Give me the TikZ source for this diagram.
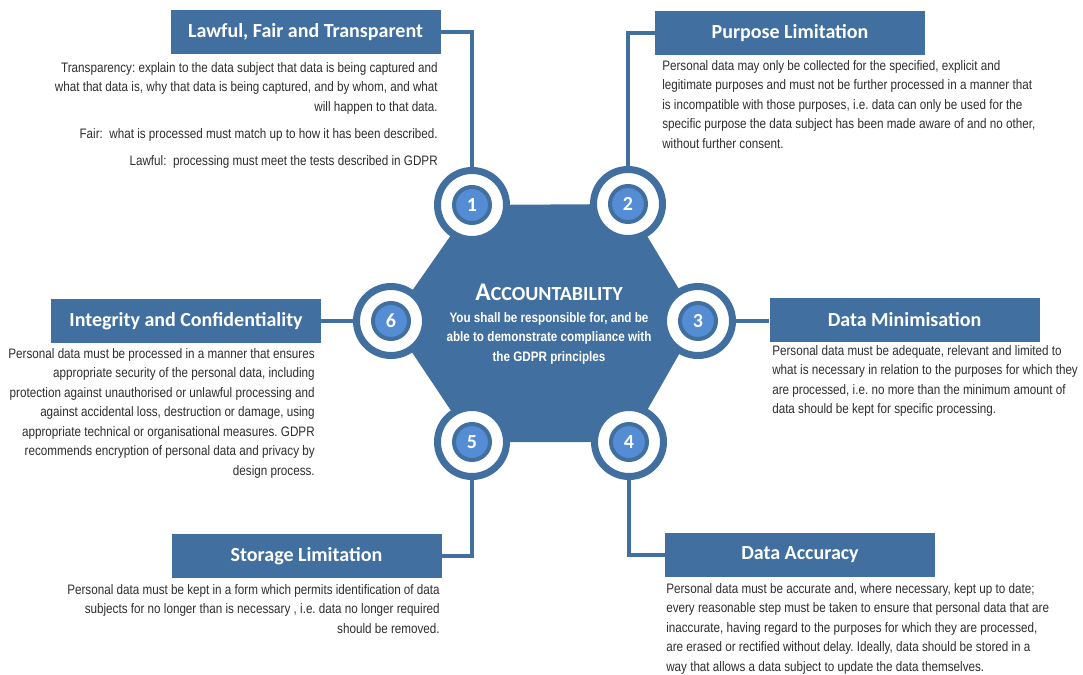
\documentclass[tikz,border=0pt]{standalone}
\usepackage{fontspec}
\usepackage{tikz}
\usepackage{xcolor}
\setmainfont{Liberation Sans}
\newfontfamily\notefont[FakeStretch=0.85]{Liberation Sans}
\newfontfamily\headfont{Carlito}
\definecolor{gdprblue}{RGB}{65,112,160}
\definecolor{gdprlight}{RGB}{84,141,212}
\definecolor{notegray}{RGB}{45,45,45}
\frenchspacing

\begin{document}
\begin{tikzpicture}[x=0.75pt,y=0.75pt,yscale=-1,xscale=1,
  banner/.style={fill=gdprblue, text=white, minimum width=202.5pt, minimum height=32.5pt, inner sep=0pt, font=\headfont\bfseries\fontsize{15}{17}\selectfont},
  note/.style={text=notegray, inner sep=0pt, font=\notefont\fontsize{10.3}{14.6}\selectfont},
  ring/.style={circle, draw=gdprblue, line width=5.25pt, fill=white, minimum size=51.75pt, inner sep=0pt},
  disc/.style={circle, draw=gdprblue, line width=3pt, fill=gdprlight, minimum size=27pt, inner sep=0pt, text=white, font=\headfont\bfseries\fontsize{15}{17}\selectfont},
  link/.style={draw=gdprblue, line width=3pt}]
\useasboundingbox (0,0) rectangle (1083,675);

%Corners of the hexagon
\coordinate (p1) at (472,205);
\coordinate (p2) at (628,204);
\coordinate (p3) at (698,321);
\coordinate (p4) at (629,442);
\coordinate (p5) at (472,442);
\coordinate (p6) at (391,321);

%Shape: Hexagon
\fill [gdprblue] (p1) -- (p2) -- (p3) -- (p4) -- (p5) -- (p6) -- cycle ;

% Text Node
\node [text=white, inner sep=0pt, font=\headfont\bfseries] (acc) at (549,292) {{\fontsize{19}{21}\selectfont A}{\fontsize{15}{21}\selectfont CCOUNTABILITY}};
% Text Node
\node [note, text=white, align=center, anchor=north, font=\notefont\bfseries\fontsize{10.3}{14.6}\selectfont] (motto) at (549,312) {You shall be responsible for, and be\\able to demonstrate compliance with\\the GDPR principles};

%Shape: Circles
\node [ring] (num1) at (p1) {};
\node [disc] (dot1) at (p1) {1};
\node [ring] (num2) at (p2) {};
\node [disc] (dot2) at (p2) {2};
\node [ring] (num3) at (p3) {};
\node [disc] (dot3) at (p3) {3};
\node [ring] (num4) at (p4) {};
\node [disc] (dot4) at (p4) {4};
\node [ring] (num5) at (p5) {};
\node [disc] (dot5) at (p5) {5};
\node [ring] (num6) at (p6) {};
\node [disc] (dot6) at (p6) {6};

%Shape: Banners
\node [banner] (ban1) at (305.5,32) {Lawful, Fair and Transparent};
\node [banner] (ban2) at (790,33) {Purpose Limitation};
\node [banner] (ban3) at (904.5,320) {Data Minimisation};
\node [banner] (ban4) at (800,555) {Data Accuracy};
\node [banner] (ban5) at (306.5,556) {Storage Limitation};
\node [banner] (ban6) at (186,321) {Integrity and Confidentiality};

%Straight Lines
\draw [link] (ban1.east) -| (num1.north) ;
\draw [link] (ban2.west) -| (num2.north) ;
\draw [link] (num3.east) -- (num3.east -| ban3.west) ;
\draw [link] (ban4.west) -| (num4.south) ;
\draw [link] (ban5.east) -| (num5.south) ;
\draw [link] (ban6.east) -- (ban6.east -| num6.west) ;

% Text Node
\node [note, align=right, anchor=north east] (txt1) at (438,62) {Transparency: explain to the data subject that data is being captured and\\what that data is, why that data is being captured, and by whom, and what\\will happen to that data.\\[5.6pt]Fair:\ \ what is processed must match up to how it has been described.\\[5.6pt]Lawful:\ \ processing must meet the tests described in GDPR};
% Text Node
\node [note, align=left, anchor=north west] (txt2) at (662,60) {Personal data may only be collected for the specified, explicit and\\legitimate purposes and must not be further processed in a manner that\\is incompatible with those purposes, i.e. data can only be used for the\\specific purpose the data subject has been made aware of and no other,\\without further consent.};
% Text Node
\node [note, align=left, anchor=north west] (txt3) at (772,345) {Personal data must be adequate, relevant and limited to\\what is necessary in relation to the purposes for which they\\are processed, i.e. no more than the minimum amount of\\data should be kept for specific processing.};
% Text Node
\node [note, align=left, anchor=north west] (txt4) at (666,583) {Personal data must be accurate and, where necessary, kept up to date;\\every reasonable step must be taken to ensure that personal data that are\\inaccurate, having regard to the purposes for which they are processed,\\are erased or rectified without delay. Ideally, data should be stored in a\\way that allows a data subject to update the data themselves.};
% Text Node
\node [note, align=right, anchor=north east] (txt5) at (440,584) {Personal data must be kept in a form which permits identification of data\\subjects for no longer than is necessary , i.e. data no longer required\\should be removed.};
% Text Node
\node [note, align=right, anchor=north east] (txt6) at (315,348) {Personal data must be processed in a manner that ensures\\appropriate security of the personal data, including\\protection against unauthorised or unlawful processing and\\against accidental loss, destruction or damage, using\\appropriate technical or organisational measures. GDPR\\recommends encryption of personal data and privacy by\\design process.};

\end{tikzpicture}
\end{document}
